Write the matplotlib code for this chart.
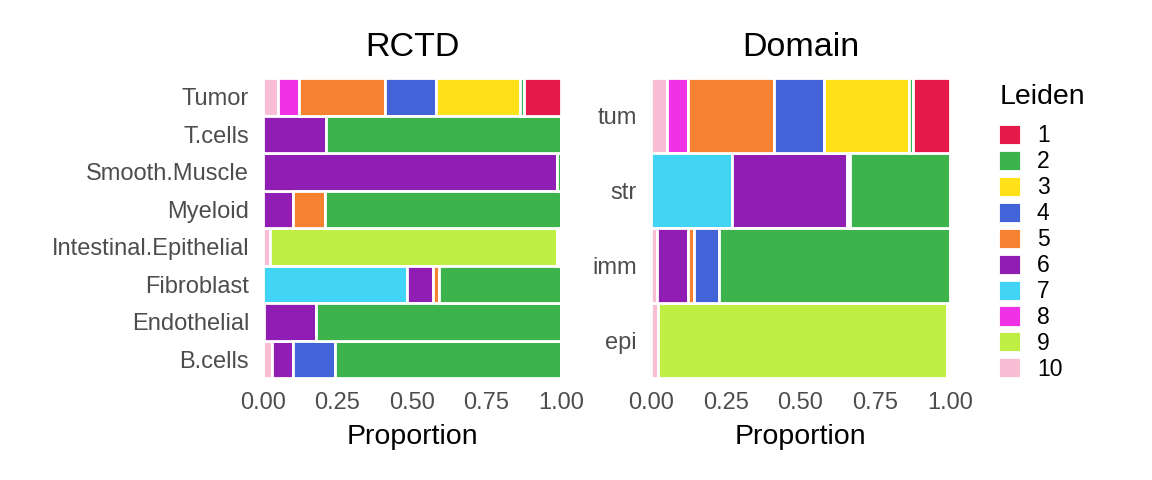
import numpy as np
import matplotlib
matplotlib.use("Agg")
import matplotlib.pyplot as plt
from matplotlib.patches import Patch

plt.rcParams['font.family'] = ['Liberation Sans', 'DejaVu Sans']

# Leiden 簇及颜色
clusters = ['1', '2', '3', '4', '5', '6', '7', '8', '9', '10']
colors = ['#E6194B', '#3CB44B', '#FFE119', '#4363D8', '#F58231',
          '#911EB4', '#42D4F4', '#F032E6', '#BFEF45', '#FABED4']

# RCTD 细胞类型 (从下到上)
rctd_types = ['B.cells', 'Endothelial', 'Fibroblast', 'Intestinal.Epithelial',
              'Myeloid', 'Smooth.Muscle', 'T.cells', 'Tumor']
# 每行: 簇 1..10 的比例
rctd_props = [
    [0.000, 0.760, 0.000, 0.140, 0.000, 0.070, 0.000, 0.000, 0.000, 0.030],
    [0.000, 0.822, 0.000, 0.000, 0.000, 0.173, 0.000, 0.000, 0.002, 0.003],
    [0.000, 0.411, 0.000, 0.000, 0.019, 0.088, 0.482, 0.000, 0.000, 0.000],
    [0.004, 0.005, 0.000, 0.000, 0.000, 0.004, 0.000, 0.000, 0.965, 0.022],
    [0.000, 0.792, 0.000, 0.000, 0.106, 0.102, 0.000, 0.000, 0.000, 0.000],
    [0.000, 0.013, 0.000, 0.000, 0.000, 0.987, 0.000, 0.000, 0.000, 0.000],
    [0.000, 0.790, 0.000, 0.000, 0.000, 0.210, 0.000, 0.000, 0.000, 0.000],
    [0.124, 0.012, 0.285, 0.169, 0.288, 0.000, 0.000, 0.070, 0.000, 0.052],
]

# Domain (从下到上)
domain_types = ['epi', 'imm', 'str', 'tum']
domain_props = [
    [0.004, 0.004, 0.000, 0.000, 0.000, 0.003, 0.000, 0.000, 0.966, 0.023],
    [0.000, 0.771, 0.000, 0.084, 0.020, 0.105, 0.000, 0.000, 0.000, 0.020],
    [0.000, 0.333, 0.003, 0.003, 0.004, 0.387, 0.270, 0.000, 0.000, 0.000],
    [0.124, 0.014, 0.282, 0.168, 0.288, 0.000, 0.000, 0.070, 0.000, 0.054],
]


def stacked_panel(ax, types, props, title):
    props = np.array(props)
    y = np.arange(len(types))
    left = np.zeros(len(types))
    # 簇 10 在最左, 簇 1 在最右
    for k in range(len(clusters) - 1, -1, -1):
        ax.barh(y, props[:, k], left=left, height=1.0, color=colors[k],
                edgecolor='white', linewidth=2.0)
        left += props[:, k]
    ax.set_xlim(0, 1)
    ax.set_ylim(-0.5, len(types) - 0.5)
    ax.set_yticks(y)
    ax.set_yticklabels(types)
    ax.set_xticks([0, 0.25, 0.5, 0.75, 1.0])
    ax.set_xticklabels(['0.00', '0.25', '0.50', '0.75', '1.00'])
    ax.tick_params(length=0, labelsize=17, labelcolor='#4D4D4D')
    ax.tick_params(axis='x', pad=10)
    ax.tick_params(axis='y', pad=10)
    for s in ax.spines.values():
        s.set_visible(False)
    ax.set_xlabel('Proportion', fontsize=20.5, labelpad=7)
    ax.set_title(title, fontsize=24.5, pad=16)


fig = plt.figure(figsize=(11.52, 4.8), dpi=100)
ax1 = fig.add_axes([263 / 1152, 1 - 378 / 480, 298 / 1152, 300 / 480])
ax2 = fig.add_axes([651 / 1152, 1 - 378 / 480, 299 / 1152, 300 / 480])

stacked_panel(ax1, rctd_types, rctd_props, 'RCTD')
stacked_panel(ax2, domain_types, domain_props, 'Domain')

handles = [Patch(facecolor=c, edgecolor='white', linewidth=0.6) for c in colors]
leg = fig.legend(handles, clusters, title='Leiden', loc='upper left',
                 bbox_to_anchor=(990 / 1152, 1 - 75 / 480), frameon=False,
                 fontsize=16.5, title_fontsize=20.5, handlelength=0.9,
                 handleheight=0.9, handletextpad=0.75, labelspacing=0.13,
                 borderaxespad=0)
leg._legend_box.align = 'left'
leg._legend_box.sep = 10

fig.savefig('out.png', dpi=100)
